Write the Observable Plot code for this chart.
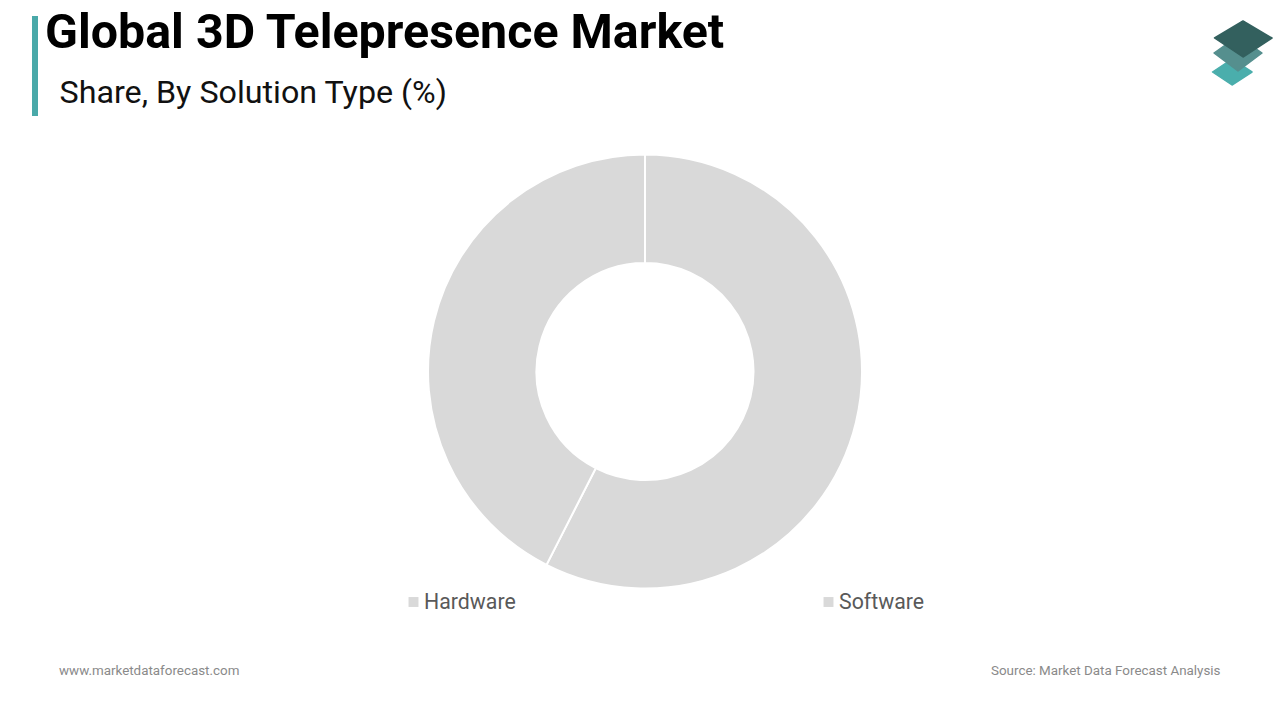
<!DOCTYPE html>
<html>
<head>
<meta charset="utf-8">
<script src="https://cdn.jsdelivr.net/npm/d3@7"></script>
<script src="https://cdn.jsdelivr.net/npm/@observablehq/plot@0.6"></script>
<style>
  html, body { margin: 0; padding: 0; background: #fff; }
  body { position: relative; width: 1280px; height: 720px; overflow: hidden; font-family: Roboto, sans-serif; }
  .abs { position: absolute; white-space: nowrap; }
  #bar { left: 32px; top: 16px; width: 6px; height: 100px; background: #4aa9a9; }
  #title { left: 45px; top: 5px; font-size: 48.35px; line-height: 53px; font-weight: 700; color: #000; }
  #subtitle { left: 59.5px; top: 72px; font-size: 32.25px; line-height: 40px; color: #111; }
  #logo { left: 1200px; top: 10px; }
  #chart { left: 0; top: 130px; }
  #site { left: 59px; top: 662px; font-size: 13.4px; line-height: 17px; color: #8a8a8a; }
  #source { right: 59.5px; top: 662px; font-size: 13.4px; line-height: 17px; color: #8a8a8a; }
</style>
</head>
<body>
<div id="bar" class="abs"></div>
<div id="title" class="abs"></div>
<div id="subtitle" class="abs"></div>
<svg id="logo" class="abs" width="80" height="80" viewBox="1200 10 80 80">
  <polygon points="1212.5,72 1232,59 1252,72 1232,85" fill="#4aaeac" stroke="#4aaeac" stroke-linejoin="round" stroke-width="1.5"/>
  <polygon points="1214,53 1238,36 1262,53 1238,71" fill="#558f8e" stroke="#558f8e" stroke-linejoin="round" stroke-width="1.5"/>
  <polygon points="1214.5,38 1243,21 1272,38 1243,57" fill="#33605e" stroke="#33605e" stroke-linejoin="round" stroke-width="1.5"/>
</svg>
<div id="chart" class="abs"></div>
<div id="site" class="abs"></div>
<div id="source" class="abs"></div>
<script>
const titleText = "Global 3D Telepresence Market";
const subtitleText = "Share, By Solution Type (%)";
const siteText = "www.marketdataforecast.com";
const sourceText = "Source: Market Data Forecast Analysis";
const categories = ["Hardware", "Software"];
const shares = [57.5, 42.5];
const sliceColors = ["#d9d9d9", "#d9d9d9"];

document.getElementById("title").textContent = titleText;
document.getElementById("subtitle").textContent = subtitleText;
document.getElementById("site").textContent = siteText;
document.getElementById("source").textContent = sourceText;

const rows = categories.map((category, i) => ({category, share: shares[i]}));

const W = 1280, H = 490;
const CX = 645, CY = 241.5, R_OUT = 217, R_IN = 108.5;

function donut(index, scales) {
  const pie = d3.pie().sort(null).value(d => d.share)(rows);
  const arc = d3.arc().innerRadius(R_IN).outerRadius(R_OUT);
  const g = d3.create("svg:g").attr("transform", `translate(${CX},${CY})`);
  g.selectAll("path").data(pie).join("path")
    .attr("d", arc)
    .attr("fill", d => scales.color(d.data.category))
    .attr("stroke", "#fff")
    .attr("stroke-width", 2);
  return g.node();
}

const chart = Plot.plot({
  width: W,
  height: H,
  margin: 0,
  style: {background: "transparent", fontFamily: "Roboto, sans-serif"},
  x: {type: "point", domain: categories, range: [413, 828.5], padding: 0, axis: null},
  color: {domain: categories, range: sliceColors},
  marks: [
    donut,
    Plot.dot(rows, {
      x: "category",
      frameAnchor: "bottom",
      dy: -18.5,
      symbol: "square",
      r: 5.6,
      fill: "category"
    }),
    Plot.text(rows, {
      x: "category",
      text: "category",
      frameAnchor: "bottom",
      lineAnchor: "middle",
      dy: -18.5,
      dx: 10.5,
      textAnchor: "start",
      fontSize: 21.3,
      fill: "#595959"
    })
  ]
});
document.getElementById("chart").appendChild(chart);
</script>
</body>
</html>
